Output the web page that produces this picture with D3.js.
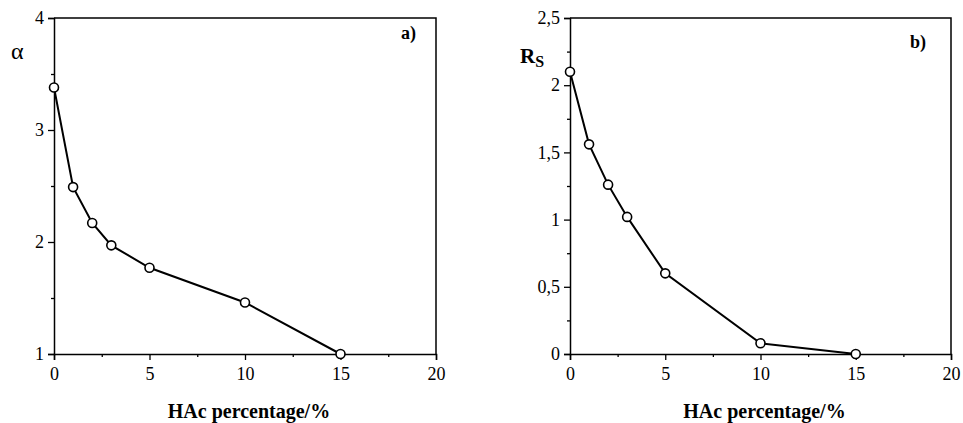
<!DOCTYPE html>
<html><head><meta charset="utf-8">
<script src="https://cdn.jsdelivr.net/npm/d3@7"></script>
<style>body{margin:0;background:#fff}svg{display:block}</style>
</head><body>
<svg id="c" width="963" height="423"></svg>
<script>
const hac = [0, 1, 2, 3, 5, 10, 15];
const alphaValues = [3.38, 2.49, 2.17, 1.97, 1.77, 1.46, 1.0];
const rsValues = [2.10, 1.56, 1.26, 1.02, 0.60, 0.08, 0.0];
const xTicks = [0, 5, 10, 15, 20];
const xMinor = [2.5, 7.5, 12.5, 17.5];
const alphaTicks = [1, 2, 3, 4];
const alphaMinor = [1.5, 2.5, 3.5];
const rsTicks = [0, 0.5, 1, 1.5, 2, 2.5];
const rsMinor = [0.25, 0.75, 1.25, 1.75, 2.25];
const xTitle = "HAc percentage/%";

const FONT = "Liberation Serif";
const svg = d3.select("#c");
const fmt = v => String(v).replace(".", ",");

function panel(opt) {
  const x = d3.scaleLinear().domain([0, 20]).range([opt.x0, opt.x1]);
  const y = d3.scaleLinear().domain(opt.yDomain).range([354, 18]);
  const g = svg.append("g");
  g.append("path").attr("d", `M${opt.x0},18H${opt.x1}V354`).attr("fill", "none").attr("stroke", "#000").attr("stroke-width", 1.5);
  const xa = g.append("g").attr("transform", "translate(0,354)")
    .call(d3.axisBottom(x).tickValues(xTicks).tickSize(6).tickPadding(7).tickFormat(d => d));
  const xm = g.append("g").attr("transform", "translate(0,354)")
    .call(d3.axisBottom(x).tickValues(xMinor).tickSize(3).tickFormat(""));
  const ya = g.append("g").attr("transform", `translate(${opt.x0},0)`)
    .call(d3.axisLeft(y).tickValues(opt.yTicks).tickSize(6).tickPadding(4).tickFormat(fmt));
  const ym = g.append("g").attr("transform", `translate(${opt.x0},0)`)
    .call(d3.axisLeft(y).tickValues(opt.yMinor).tickSize(3).tickFormat(""));
  [xa, xm, ya, ym].forEach(a => {
    a.select(".domain").attr("stroke-width", 1.5);
    a.selectAll(".tick line").attr("stroke-width", 1.3);
    a.selectAll("text").style("font-family", FONT).style("font-size", "18px").attr("fill", "#000");
  });
  xm.select(".domain").remove(); ym.select(".domain").remove();
  const line = d3.line().x((d, i) => x(hac[i])).y(d => y(d));
  g.append("path").datum(opt.values).attr("d", line).attr("fill", "none").attr("stroke", "#000").attr("stroke-width", 2);
  g.selectAll("circle").data(opt.values).join("circle")
    .attr("cx", (d, i) => x(hac[i])).attr("cy", d => y(d)).attr("r", 4.5)
    .attr("fill", "#fff").attr("stroke", "#000").attr("stroke-width", 1.6);
  g.append("text").attr("x", (opt.x0 + opt.x1) / 2 + 4).attr("y", 418).attr("text-anchor", "middle")
    .style("font-family", FONT).style("font-size", "20px").style("font-weight", "bold").text(xTitle);
  g.append("text").attr("x", opt.tagX).attr("y", opt.tagY)
    .style("font-family", FONT).style("font-size", "18px").style("font-weight", "bold").text(opt.tag);
  return g;
}

const ga = panel({x0: 54, x1: 436, yDomain: [1, 4], yTicks: alphaTicks, yMinor: alphaMinor, values: alphaValues, tag: "a)", tagX: 401, tagY: 39});
ga.append("text").attr("x", 11).attr("y", 59).style("font-family", FONT).style("font-size", "24px").text("α");

const gb = panel({x0: 570, x1: 951, yDomain: [0, 2.5], yTicks: rsTicks, yMinor: rsMinor, values: rsValues, tag: "b)", tagX: 910, tagY: 48});
const rs = gb.append("text").attr("x", 520).attr("y", 63).style("font-family", FONT).style("font-size", "21px").style("font-weight", "bold");
rs.append("tspan").text("R");
rs.append("tspan").attr("dy", 4).style("font-size", "16px").text("S");
</script>
</body></html>
